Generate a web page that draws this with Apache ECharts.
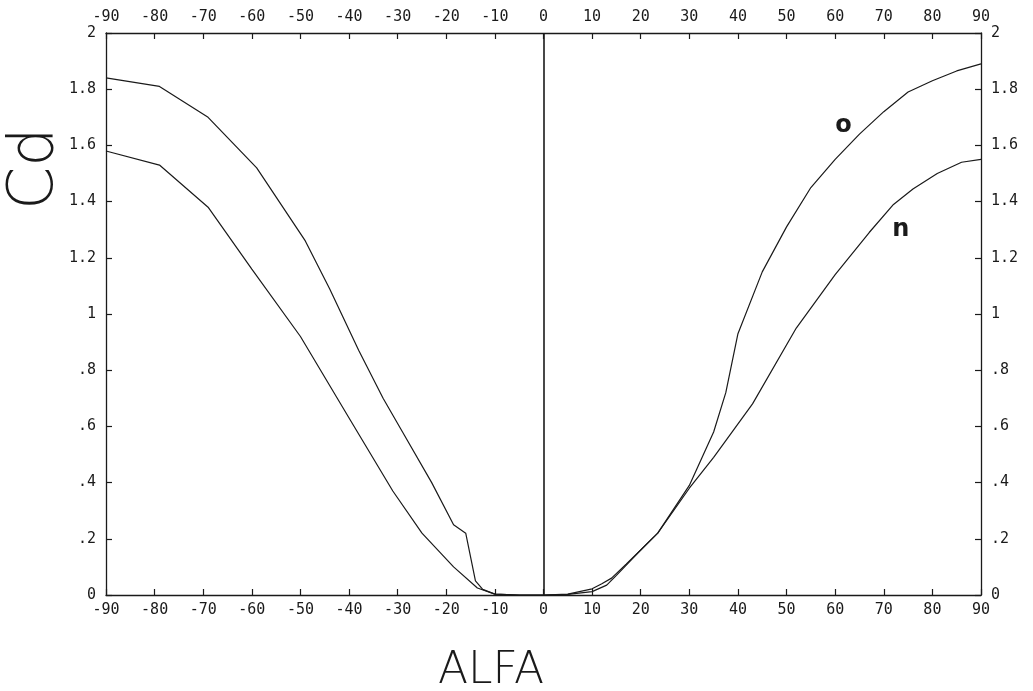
<!DOCTYPE html>
<html>
<head>
<meta charset="utf-8">
<script src="https://cdn.jsdelivr.net/npm/echarts@6/dist/echarts.min.js"></script>
<style>
html,body{margin:0;padding:0;background:#fff;}
#chart{width:1033px;height:691px;}
</style>
</head>
<body>
<div id="chart"></div>
<script>
// Curve "o" (upper): [alfa, Cd]
var alfaO = [-90,-79,-69,-59,-49,-44,-38,-33,-29,-23,-18.5,-16,-14,-12.5,-10,-5,0,5,10,12,14,17,20,23.5,30,35,37.5,40,45,50,55,60,65,70,75,80,85,90];
var cdO   = [1.84,1.81,1.70,1.52,1.26,1.09,0.87,0.70,0.58,0.40,0.25,0.22,0.05,0.02,0.003,0,0,0.003,0.022,0.04,0.06,0.11,0.16,0.22,0.39,0.58,0.72,0.93,1.15,1.31,1.45,1.55,1.64,1.72,1.79,1.83,1.865,1.89];
// Curve "n" (lower)
var alfaN = [-90,-79,-69,-60,-50,-40,-31,-25,-18.5,-13.6,-10,-5,0,5,10,13,15,20,23.5,30,35,43,52,60,67,72,76,81,86,90];
var cdN   = [1.58,1.53,1.38,1.16,0.92,0.63,0.37,0.22,0.10,0.025,0.003,0,0,0.002,0.012,0.035,0.07,0.16,0.22,0.38,0.49,0.68,0.95,1.14,1.29,1.39,1.445,1.50,1.54,1.55];
// Curve labels
var labelO = {text:'o', alfa:61.7, cd:1.67};
var labelN = {text:'n', alfa:73.5, cd:1.30};
var xTicks = {min:-90, max:90, interval:10};
var yTicks = {min:0, max:2, interval:0.2};

function pairs(xs, ys){ return xs.map(function(x,i){return [x, ys[i]];}); }
function yFmt(v){
  var r = Math.round(v*10)/10;
  if (r === 0) return '0';
  if (r === 1) return '1';
  if (r === 2) return '2';
  var s = r.toFixed(1);
  if (r < 1) s = s.substring(1);
  return s;
}
var ink = '#1a1a1a';
var tickFont = {color: ink, fontFamily: 'DejaVu Sans Mono', fontSize: 15};
function xAx(pos){
  return {
    type:'value', position:pos, min:xTicks.min, max:xTicks.max, interval:xTicks.interval,
    axisLine:{show:true, onZero:false, lineStyle:{color:ink, width:1.3}},
    axisTick:{show:true, inside:true, length:6, lineStyle:{color:ink, width:1.2}},
    axisLabel:Object.assign({margin:8}, tickFont),
    splitLine:{show:false}
  };
}
function yAx(pos){
  return {
    type:'value', position:pos, min:yTicks.min, max:yTicks.max, interval:yTicks.interval,
    axisLine:{show:true, onZero:false, lineStyle:{color:ink, width:1.3}},
    axisTick:{show:true, inside:true, length:6, lineStyle:{color:ink, width:1.2}},
    axisLabel:Object.assign({margin:10, formatter:yFmt}, tickFont),
    splitLine:{show:false}
  };
}
var chart = echarts.init(document.getElementById('chart'), null, {renderer:'canvas'});
var lineSt = {color: ink, width: 1.2};
chart.setOption({
  backgroundColor:'#fff',
  animation:false,
  grid:{left:106, right:52, top:33, bottom:96},
  xAxis:[xAx('bottom'), xAx('top')],
  yAxis:[yAx('left'), yAx('right')],
  series:[
    {type:'line', xAxisIndex:0, yAxisIndex:0, data:pairs(alfaO, cdO), showSymbol:false, symbol:'none', lineStyle:lineSt, itemStyle:{color:ink},
     markLine:{silent:true, symbol:'none', label:{show:false}, lineStyle:{color:ink, width:1.6, type:'solid'}, data:[{xAxis:0}]},
     markPoint:{symbol:'circle', symbolSize:0, label:{show:true, formatter:labelO.text, color:ink, fontSize:24, fontWeight:'bold', fontFamily:'DejaVu Sans'}, data:[{coord:[labelO.alfa, labelO.cd]}]}
    },
    {type:'line', xAxisIndex:0, yAxisIndex:0, data:pairs(alfaN, cdN), showSymbol:false, symbol:'none', lineStyle:lineSt, itemStyle:{color:ink},
     markPoint:{symbol:'circle', symbolSize:0, label:{show:true, formatter:labelN.text, color:ink, fontSize:24, fontWeight:'bold', fontFamily:'DejaVu Sans'}, data:[{coord:[labelN.alfa, labelN.cd]}]}
    }
  ],
  graphic:[
    {type:'text', left:438, top:650, style:{text:'ALFA', fill:ink, font:'200 44px "DejaVu Sans"'}},
    {type:'text', x:5, y:210, rotation:Math.PI/2, style:{text:'Cd', fill:ink, font:'200 62px "DejaVu Sans"'}}
  ]
});
</script>
</body>
</html>
